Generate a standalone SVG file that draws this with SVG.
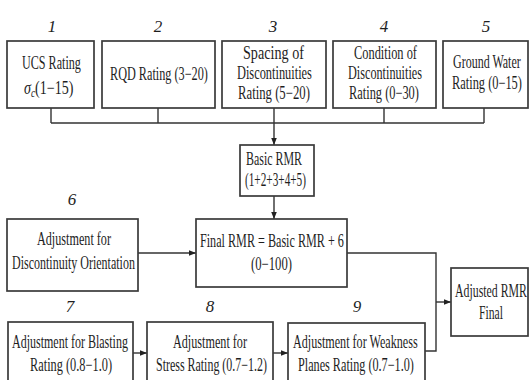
<svg xmlns="http://www.w3.org/2000/svg" width="529" height="380" viewBox="0 0 529 380">
<style>
.box{fill:#fff;stroke:#3a3a3a;stroke-width:1.7}
.ln{fill:none;stroke:#333;stroke-width:1.4}
text{font-family:"Liberation Serif","Times New Roman",serif;font-size:18px;fill:#1e1e1e}
.num{font-style:italic;text-anchor:middle;font-size:17px}
.it{font-style:italic}
.sub{font-style:italic;font-size:12px}
</style>
<defs>
<marker id="ah" viewBox="0 0 10 10" refX="10" refY="5" markerWidth="7" markerHeight="7" markerUnits="userSpaceOnUse" orient="auto">
<path d="M0,1 L10,5 L0,9 Z" fill="#222"/>
</marker>
</defs>
<rect width="529" height="380" fill="#fff"/>

<g id="connectors">
<path class="ln" d="M51,108 V123 M158,108 V123 M384,108 V123 M484,108 V123 M51,123 H484"/>
<path class="ln" d="M274,108 V145" marker-end="url(#ah)"/>
<path class="ln" d="M274,196 V219" marker-end="url(#ah)"/>
<path class="ln" d="M138,253 H196" marker-end="url(#ah)"/>
<path class="ln" d="M133,353 H147" marker-end="url(#ah)"/>
<path class="ln" d="M273,353 H288" marker-end="url(#ah)"/>
<path class="ln" d="M347,253 H436 V351 H425"/>
<path class="ln" d="M436,302 H451" marker-end="url(#ah)"/>
</g>

<g id="n1">
<text class="num" x="52" y="32">1</text>
<rect class="box" x="7" y="41" width="87" height="67"/>
<text transform="translate(22,69) scale(0.674,1)">UCS Rating</text>
<text transform="translate(24,94) scale(0.78,1)"><tspan class="it">σ</tspan><tspan class="sub" dy="3">c</tspan><tspan dy="-3">(1−15)</tspan></text>
</g>
<g id="n2">
<text class="num" x="158" y="32">2</text>
<rect class="box" x="102" y="41" width="113" height="67"/>
<text transform="translate(110,80) scale(0.68,1)">RQD Rating (3−20)</text>
</g>
<g id="n3">
<text class="num" x="273" y="32">3</text>
<rect class="box" x="222" y="41" width="104" height="67"/>
<text transform="translate(243,59) scale(0.787,1)">Spacing of</text>
<text transform="translate(237,79) scale(0.688,1)">Discontinuities</text>
<text transform="translate(238,99) scale(0.708,1)">Rating (5−20)</text>
</g>
<g id="n4">
<text class="num" x="384" y="32">4</text>
<rect class="box" x="333" y="41" width="103" height="67"/>
<text transform="translate(354,59) scale(0.689,1)">Condition of</text>
<text transform="translate(348,79) scale(0.679,1)">Discontinuities</text>
<text transform="translate(349,99) scale(0.689,1)">Rating (0−30)</text>
</g>
<g id="n5">
<text class="num" x="486" y="32">5</text>
<rect class="box" x="443" y="41" width="85" height="67"/>
<text transform="translate(453,68) scale(0.667,1)">Ground Water</text>
<text transform="translate(452,89) scale(0.689,1)">Rating (0−15)</text>
</g>
<g id="basic">
<rect class="box" x="240" y="145" width="74" height="51"/>
<text transform="translate(246,165) scale(0.663,1)">Basic RMR</text>
<text transform="translate(245,186) scale(0.625,1)">(1+2+3+4+5)</text>
</g>
<g id="final">
<rect class="box" x="196" y="219" width="151" height="68"/>
<text transform="translate(200,247) scale(0.675,1)">Final RMR = Basic RMR + 6</text>
<text transform="translate(251,270) scale(0.705,1)">(0−100)</text>
</g>
<g id="n6">
<text class="num" x="72" y="205">6</text>
<rect class="box" x="7" y="219" width="131" height="72"/>
<text transform="translate(37,245) scale(0.676,1)">Adjustment for</text>
<text transform="translate(12,269) scale(0.667,1)">Discontinuity Orientation</text>
</g>
<g id="n7">
<text class="num" x="70" y="312">7</text>
<rect class="box" x="8" y="322" width="125" height="62"/>
<text transform="translate(12,348) scale(0.667,1)">Adjustment for Blasting</text>
<text transform="translate(30,371) scale(0.686,1)">Rating (0.8−1.0)</text>
</g>
<g id="n8">
<text class="num" x="210" y="312">8</text>
<rect class="box" x="147" y="322" width="126" height="62"/>
<text transform="translate(173,348) scale(0.676,1)">Adjustment for</text>
<text transform="translate(156,371) scale(0.664,1)">Stress Rating (0.7−1.2)</text>
</g>
<g id="n9">
<text class="num" x="357" y="312">9</text>
<rect class="box" x="288" y="323" width="137" height="61"/>
<text transform="translate(293,348) scale(0.674,1)">Adjustment for Weakness</text>
<text transform="translate(298,371) scale(0.678,1)">Planes Rating (0.7−1.0)</text>
</g>
<g id="adjusted">
<rect class="box" x="451" y="268" width="77" height="68"/>
<text transform="translate(455,297) scale(0.658,1)">Adjusted RMR</text>
<text transform="translate(479,319) scale(0.649,1)">Final</text>
</g>
</svg>
